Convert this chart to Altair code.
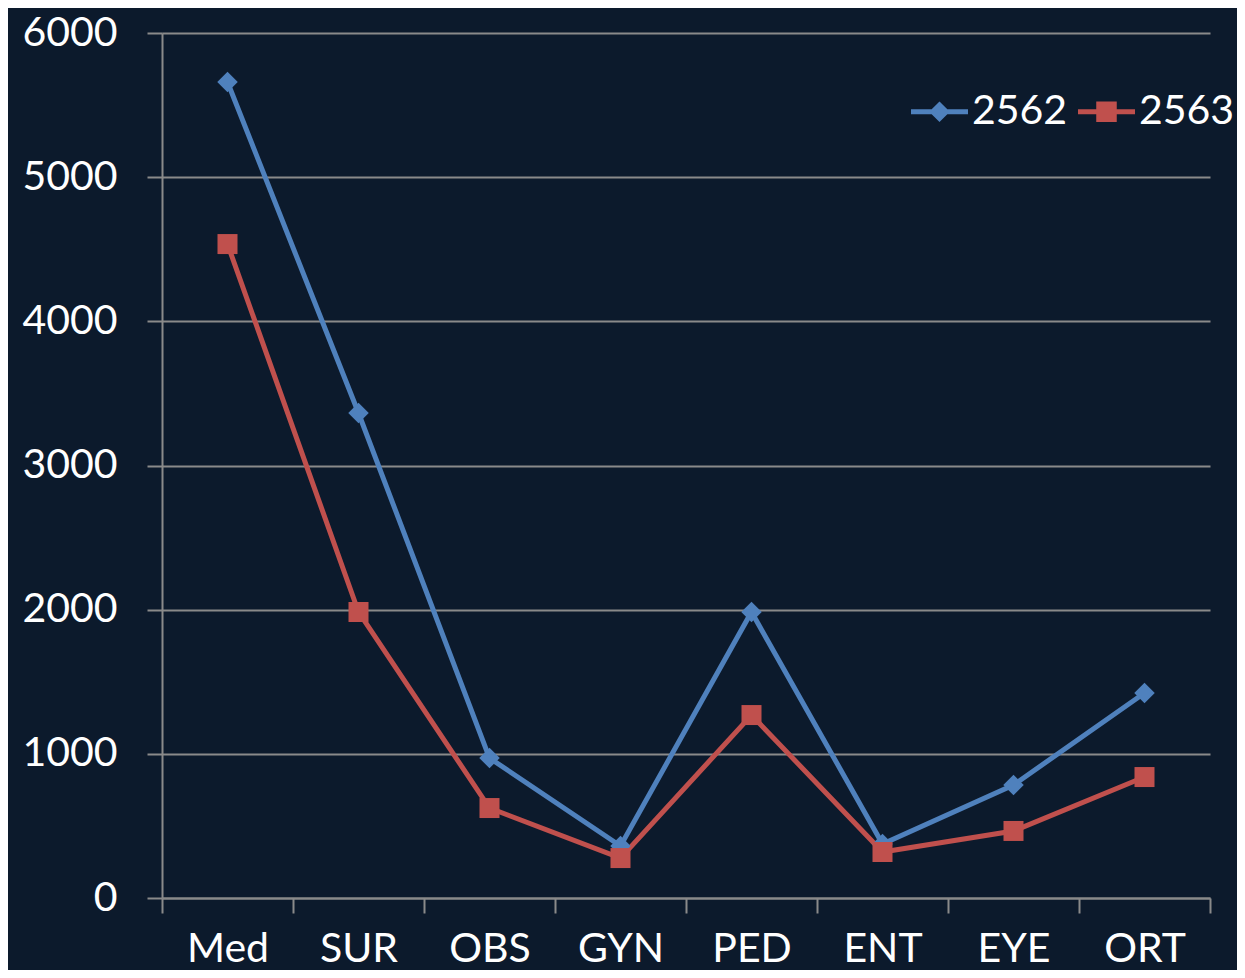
import altair as alt
import pandas as pd

categories = ["Med", "SUR", "OBS", "GYN", "PED", "ENT", "EYE", "ORT"]
series_names = ["2562", "2563"]
values_2562 = [5660, 3364, 971, 361, 1984, 375, 784, 1422]
values_2563 = [4536, 1984, 624, 277, 1269, 319, 465, 839]

rows = []
for name, vals in zip(series_names, [values_2562, values_2563]):
    for c, v in zip(categories, vals):
        rows.append({"dept": c, "series": name, "value": v})
df = pd.DataFrame(rows)

BG = "#0c1a2c"
GRID = "#8a8a8a"
FONT = "Lato"
colors = ["#4f81bd", "#c0504d"]

diamond_leg = ("M-1,-0.085 L-0.275,-0.085 L0,-0.36 L0.275,-0.085 L1,-0.085 L1,0.085 "
               "L0.275,0.085 L0,0.36 L-0.275,0.085 L-1,0.085 Z")
square_leg = ("M-1,-0.085 L-0.36,-0.085 L-0.36,-0.36 L0.36,-0.36 L0.36,-0.085 L1,-0.085 "
              "L1,0.085 L0.36,0.085 L0.36,0.36 L-0.36,0.36 L-0.36,0.085 L-1,0.085 Z")

x_enc = alt.X("dept:N", sort=categories, title=None,
              scale=alt.Scale(paddingInner=0, paddingOuter=0),
              axis=alt.Axis(tickBand="extent", tickSize=15, tickWidth=2, tickColor=GRID,
                            domainColor=GRID, domainWidth=2, labelAngle=0,
                            labelFontSize=41, labelFont=FONT, labelColor="white",
                            labelPadding=16, grid=False))
y_enc = alt.Y("value:Q", title=None,
              scale=alt.Scale(domain=[0, 6000], nice=False),
              axis=alt.Axis(values=[0, 1000, 2000, 3000, 4000, 5000, 6000],
                            tickSize=15, tickWidth=2, tickColor=GRID,
                            domainColor=GRID, domainWidth=2,
                            grid=True, gridColor=GRID, gridWidth=2,
                            labelFontSize=41, labelFont=FONT, labelColor="white",
                            labelPadding=30, format="d"))

color_scale = alt.Scale(domain=series_names, range=colors)
leg = alt.Legend(orient="none", legendX=749, legendY=50, direction="horizontal",
                 title=None, symbolSize=3249, symbolStrokeWidth=0,
                 labelFontSize=41, labelFont=FONT, labelColor="white",
                 labelOffset=4, columnPadding=10, symbolOpacity=1)
color_enc = alt.Color("series:N", scale=color_scale, legend=leg)

base = alt.Chart(df)

lines = base.mark_line(strokeWidth=5).encode(x=x_enc, y=y_enc, color=color_enc)

pts_blue = base.transform_filter(alt.datum.series == "2562").mark_point(
    filled=True, size=420, opacity=1, shape="diamond").encode(x=x_enc, y=y_enc, color=color_enc)
pts_red = base.transform_filter(alt.datum.series == "2563").mark_point(
    filled=True, size=400, opacity=1, shape="square").encode(x=x_enc, y=y_enc, color=color_enc)

legend_layer = base.mark_point(filled=True, opacity=0, size=10).encode(
    x=x_enc, y=y_enc, color=color_enc,
    shape=alt.Shape("series:N", scale=alt.Scale(domain=series_names, range=[diamond_leg, square_leg]),
                    legend=leg),
)

chart = alt.layer(lines, pts_blue, pts_red, legend_layer).properties(
    width=1048, height=865,
    background=BG,
    padding={"left": 154, "top": 25, "right": 27, "bottom": 72},
    autosize=alt.AutoSizeParams(type="none"),
).configure_view(stroke=None)

chart.save("out.html", embed_options={"renderer": "svg", "actions": False})
